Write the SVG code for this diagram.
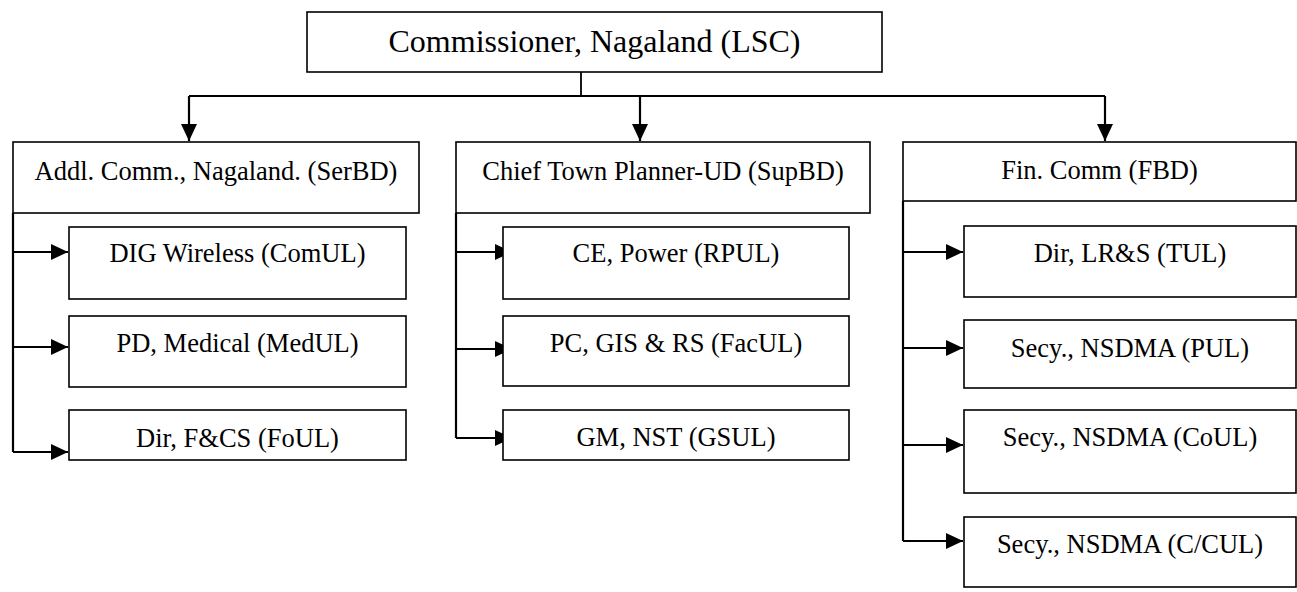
<svg xmlns="http://www.w3.org/2000/svg" width="1297" height="592" viewBox="0 0 1297 592">
<style>
.box{fill:#fff;stroke:#000;stroke-width:1.6}
.t{font-family:"Liberation Serif","Times New Roman",serif;font-size:26.5px;fill:#000;text-anchor:middle}
.tt{font-family:"Liberation Serif","Times New Roman",serif;font-size:32px;fill:#000;text-anchor:middle}
.c{fill:none;stroke:#000;stroke-width:2.2}
.c1{fill:none;stroke:#000;stroke-width:1.8}
</style>
<defs>
<marker id="ah" markerWidth="17" markerHeight="16" viewBox="0 0 17 16" refX="17" refY="8" orient="auto" markerUnits="userSpaceOnUse">
<path d="M0,0 L17,8 L0,16 Z" fill="#000"/>
</marker>
</defs>
<rect width="1297" height="592" fill="#fff"/>
<g id="connectors">
<path class="c1" d="M581,72 V96 M189,96 H1105"/>
<path class="c" d="M189,96 V141" marker-end="url(#ah)"/>
<path class="c" d="M640,96 V141" marker-end="url(#ah)"/>
<path class="c" d="M1105,96 V141" marker-end="url(#ah)"/>
<path class="c" d="M13,213 V452"/>
<path class="c" d="M13,252 H68" marker-end="url(#ah)"/>
<path class="c" d="M13,347 H68" marker-end="url(#ah)"/>
<path class="c" d="M13,452 H68" marker-end="url(#ah)"/>
<path class="c" d="M456,213 V438"/>
<path class="c" d="M456,252 H512" marker-end="url(#ah)"/>
<path class="c" d="M456,349 H512" marker-end="url(#ah)"/>
<path class="c" d="M456,438 H512" marker-end="url(#ah)"/>
<path class="c" d="M903,201 V541"/>
<path class="c" d="M903,252 H963" marker-end="url(#ah)"/>
<path class="c" d="M903,348 H963" marker-end="url(#ah)"/>
<path class="c" d="M903,445 H963" marker-end="url(#ah)"/>
<path class="c" d="M903,541 H963" marker-end="url(#ah)"/>
</g>
<g id="n-lsc"><rect class="box" x="307" y="12" width="575" height="60"/><text class="tt" x="594.5" y="52">Commissioner, Nagaland (LSC)</text></g>
<g id="n-serbd"><rect class="box" x="13" y="142" width="406" height="71"/><text class="t" x="216" y="180">Addl. Comm., Nagaland. (SerBD)</text></g>
<g id="n-supbd"><rect class="box" x="456" y="142" width="414" height="71"/><text class="t" x="663" y="180">Chief Town Planner-UD (SupBD)</text></g>
<g id="n-fbd"><rect class="box" x="903" y="142" width="393" height="59"/><text class="t" x="1099.5" y="179">Fin. Comm (FBD)</text></g>
<g id="n-comul"><rect class="box" x="69" y="227" width="337" height="72"/><text class="t" x="237.5" y="262">DIG Wireless (ComUL)</text></g>
<g id="n-medul"><rect class="box" x="69" y="316" width="337" height="71"/><text class="t" x="237.5" y="352">PD, Medical (MedUL)</text></g>
<g id="n-foul"><rect class="box" x="69" y="410" width="337" height="50"/><text class="t" x="237.5" y="446.5">Dir, F&amp;CS (FoUL)</text></g>
<g id="n-rpul"><rect class="box" x="503" y="227" width="346" height="72"/><text class="t" x="676" y="262">CE, Power (RPUL)</text></g>
<g id="n-facul"><rect class="box" x="503" y="316" width="346" height="70"/><text class="t" x="676" y="352">PC, GIS &amp; RS (FacUL)</text></g>
<g id="n-gsul"><rect class="box" x="503" y="410" width="346" height="50"/><text class="t" x="676" y="446">GM, NST (GSUL)</text></g>
<g id="n-tul"><rect class="box" x="964" y="226" width="332" height="71"/><text class="t" x="1130" y="262">Dir, LR&amp;S (TUL)</text></g>
<g id="n-pul"><rect class="box" x="964" y="320" width="332" height="68"/><text class="t" x="1130" y="356.5">Secy., NSDMA (PUL)</text></g>
<g id="n-coul"><rect class="box" x="964" y="410" width="332" height="83"/><text class="t" x="1130" y="446">Secy., NSDMA (CoUL)</text></g>
<g id="n-ccul"><rect class="box" x="964" y="517" width="332" height="70"/><text class="t" x="1130" y="553">Secy., NSDMA (C/CUL)</text></g>
</svg>
